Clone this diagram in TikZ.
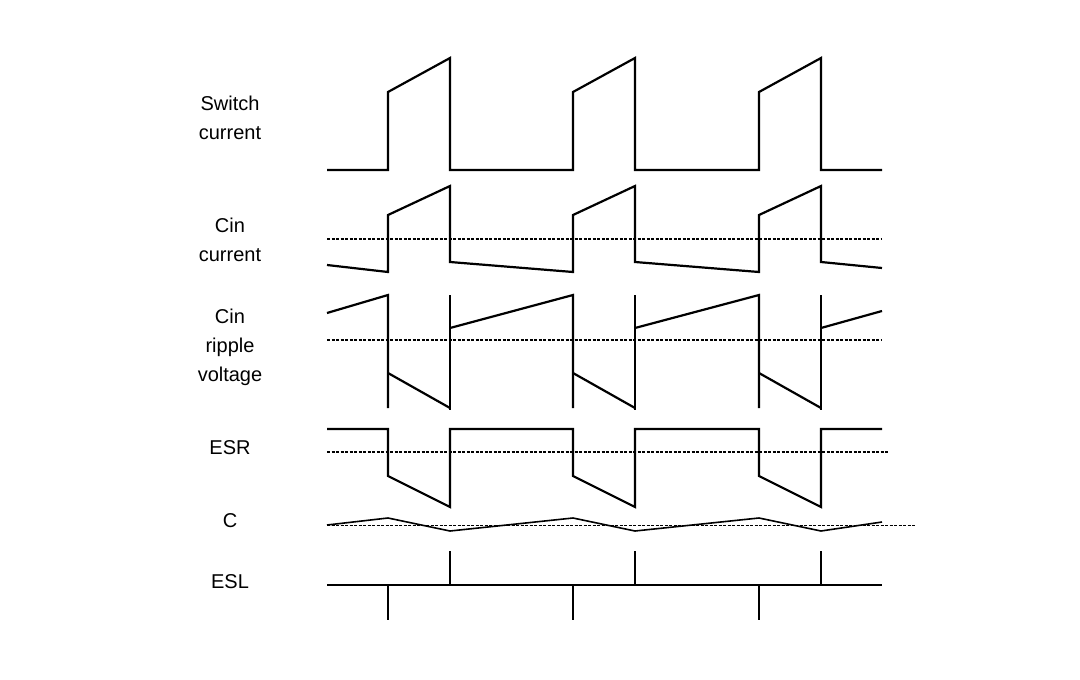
\documentclass[tikz,border=0pt]{standalone}
\usepackage{fontspec}
\setmainfont{Liberation Sans}
\begin{document}
\begin{tikzpicture}[x=1pt,y=-1pt,
  wave/.style={line width=2.2pt,line join=miter},
  ref/.style={line width=1.1pt,dash pattern=on 3pt off 1.5pt},
  lbl/.style={font=\fontsize{20}{29}\selectfont,align=center}]
\useasboundingbox (0,0) rectangle (1080,680);
% labels
\node[lbl] (l1) at (230,118) {Switch\\current};
\node[lbl] (l2) at (230,240) {Cin\\current};
\node[lbl] (l3) at (230,347) {Cin\\ripple\\voltage};
\node[lbl] (l4) at (230,448) {ESR};
\node[lbl] (l5) at (230,521) {C};
\node[lbl] (l6) at (230,582) {ESL};
% switch current
\draw[wave] (327,170) -- (388,170) -- (388,92) -- (450,58) -- (450,170) -- (573,170) -- (573,92) -- (635,58) -- (635,170) -- (759,170) -- (759,92) -- (821,58) -- (821,170) -- (882,170);
% Cin current
\draw[ref] (327,239) -- (882,239);
\draw[wave] (327,265) -- (388,272) -- (388,215) -- (450,186) -- (450,262) -- (573,272) -- (573,215) -- (635,186) -- (635,262) -- (759,272) -- (759,215) -- (821,186) -- (821,262) -- (882,268);
% Cin ripple
\draw[ref] (327,340) -- (882,340);
\draw[wave] (327,313) -- (388,295) -- (388,408);
\foreach \a/\b in {388/450,573/635,759/821}{
  \draw[wave] (\a,373) -- (\b,408);
  \draw[wave] (\b,295) -- (\b,410);
}
\draw[wave] (450,328) -- (573,295) -- (573,408);
\draw[wave] (635,328) -- (759,295) -- (759,408);
\draw[wave] (821,328) -- (882,311);
% ESR
\draw[ref] (327,452) -- (888,452);
\draw[wave] (327,429) -- (388,429) -- (388,476) -- (450,507) -- (450,429) -- (573,429) -- (573,476) -- (635,507) -- (635,429) -- (759,429) -- (759,476) -- (821,507) -- (821,429) -- (882,429);
% C
\draw[line width=0.9pt,dash pattern=on 3pt off 1.5pt] (327,525) -- (915,525);
\draw[line width=1.6pt] (327,525) -- (388,518) -- (450,531) -- (573,518) -- (635,531) -- (759,518) -- (821,531) -- (882,522);
% ESL
\draw[wave] (327,585) -- (882,585);
\foreach \a/\b in {388/450,573/635,759/821}{
  \draw[wave] (\a,585) -- (\a,620);
  \draw[wave] (\b,585) -- (\b,551);
}
\end{tikzpicture}
\end{document}
